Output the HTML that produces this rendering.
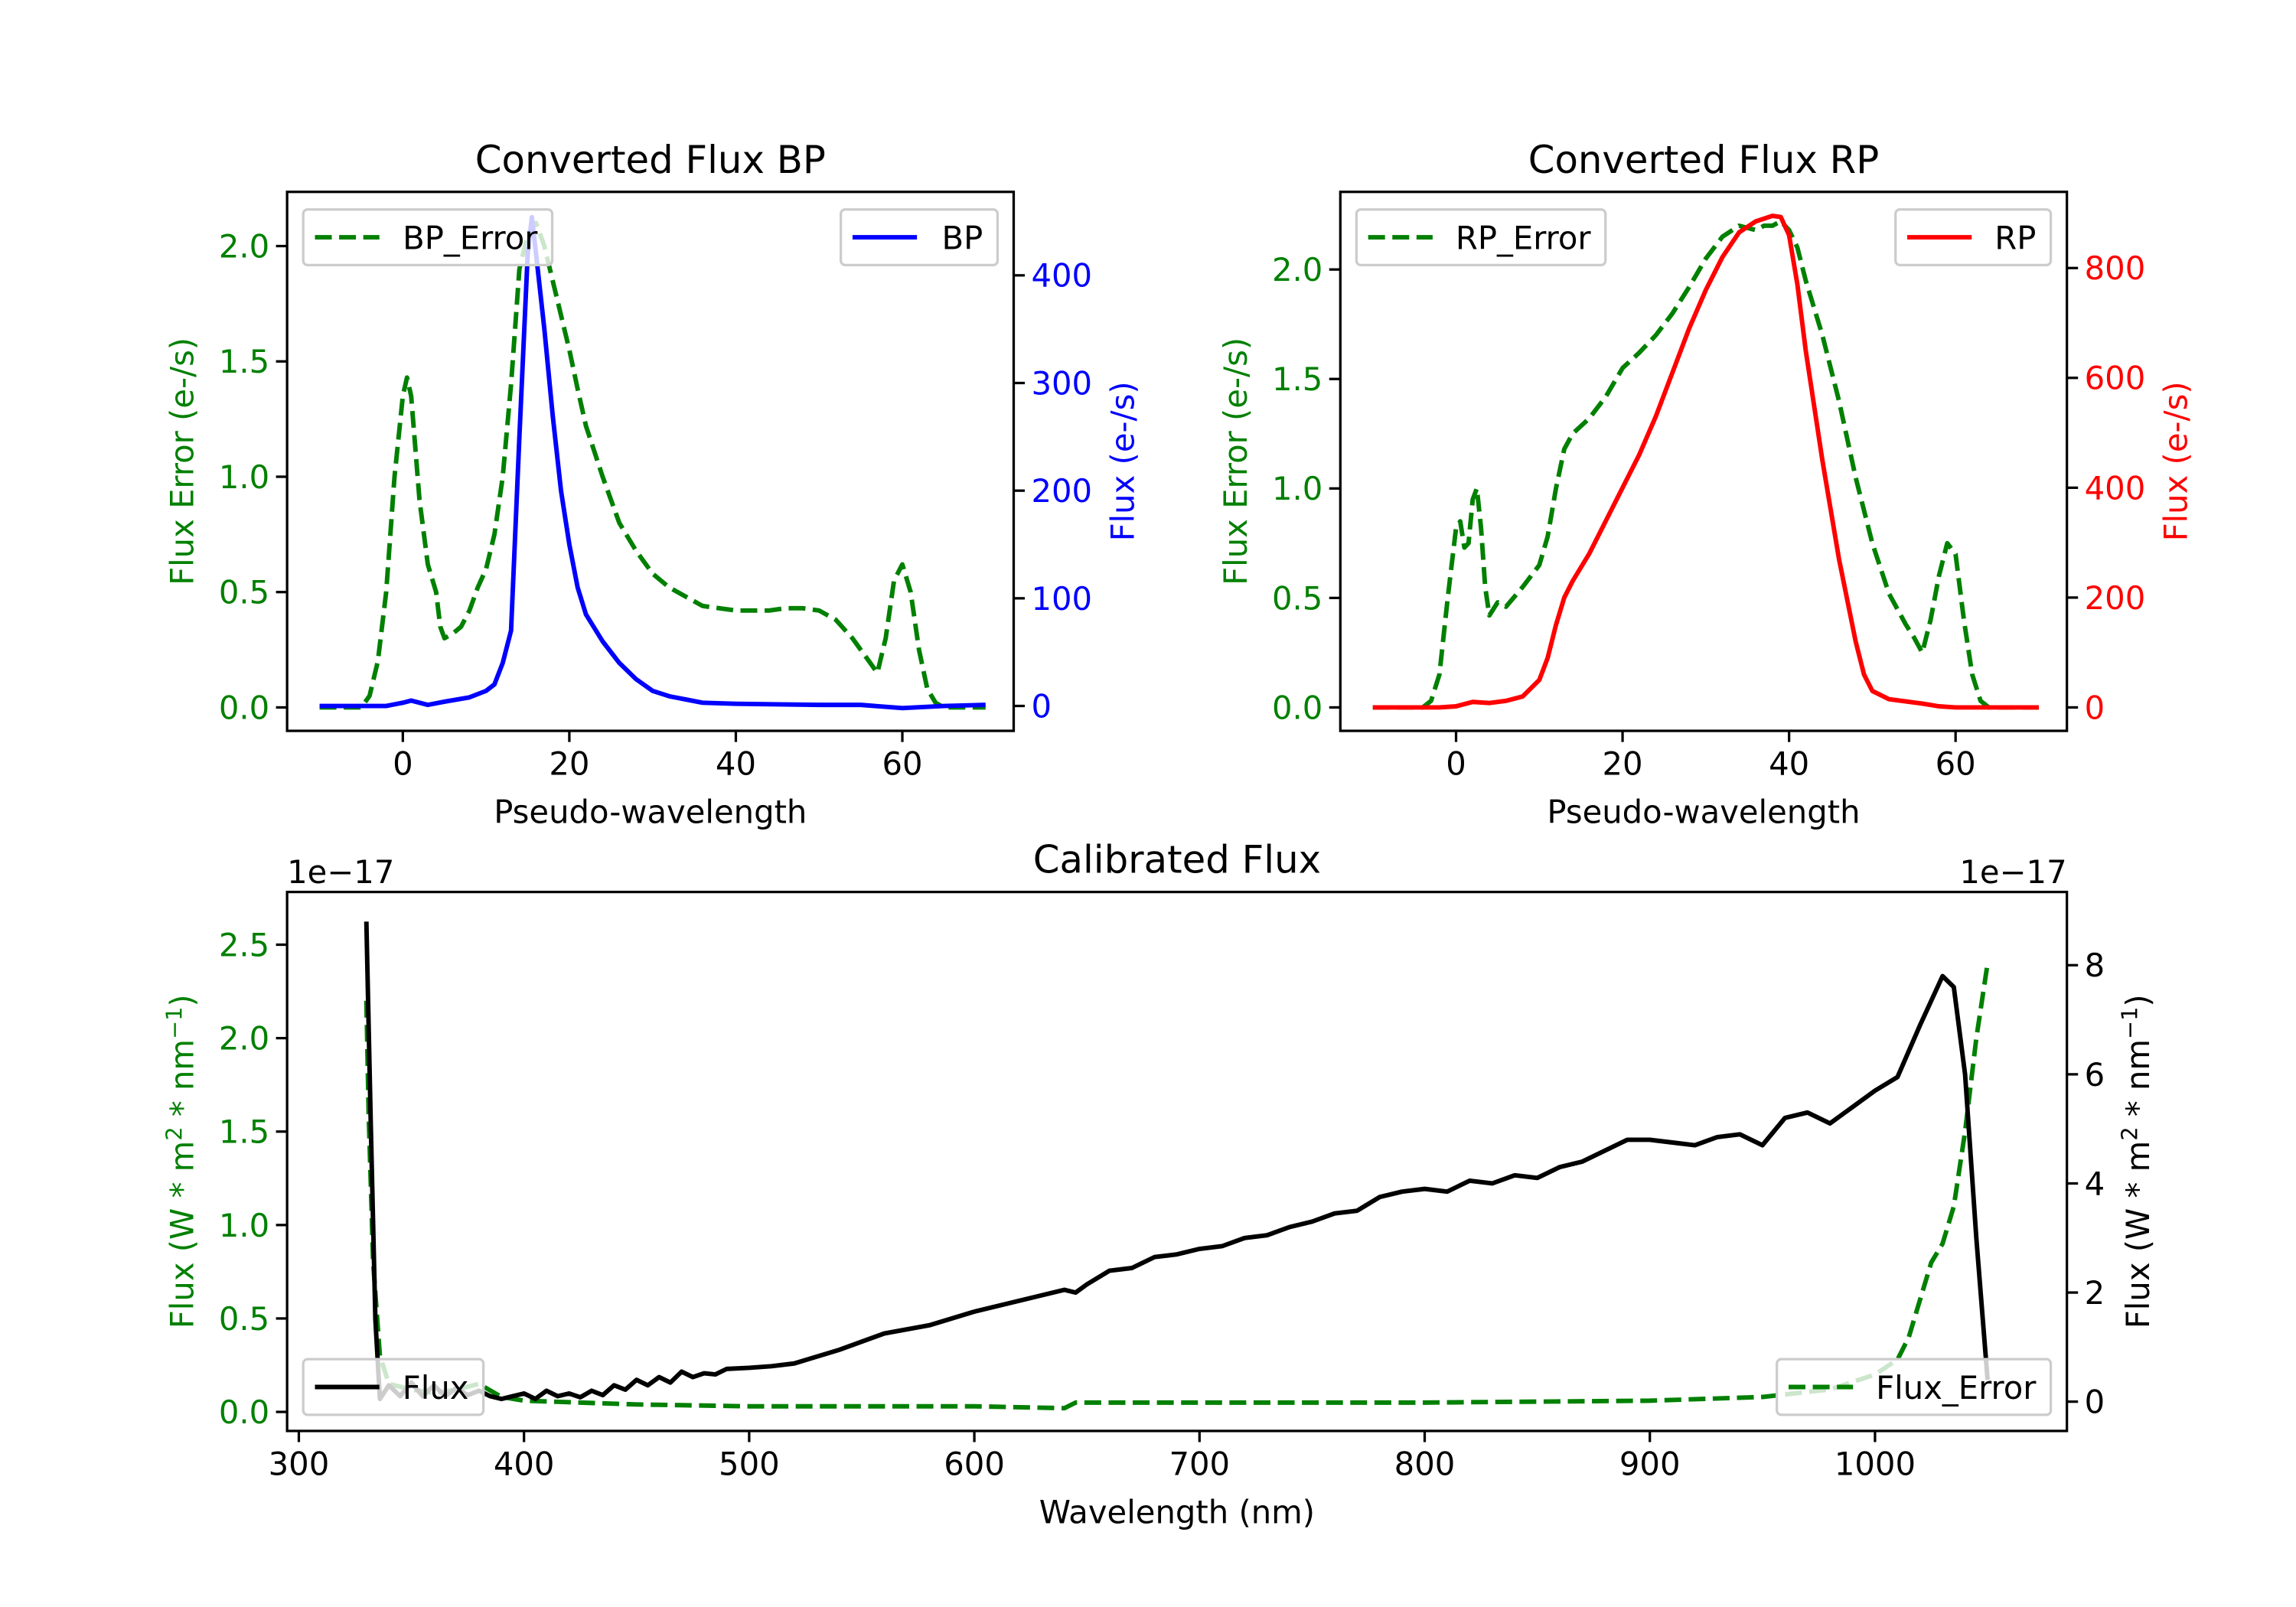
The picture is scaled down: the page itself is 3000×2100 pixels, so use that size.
<!DOCTYPE html>
<html><head><meta charset="utf-8">
<style>
html,body{margin:0;padding:0;background:#fff;}
svg{display:block;font-family:"DejaVu Sans","Liberation Sans",sans-serif;}
</style></head>
<body>
<svg id="fig" width="3000" height="2100" viewBox="0 0 1567.4 1097.2" preserveAspectRatio="none" xmlns="http://www.w3.org/2000/svg">
<rect x="0" y="0" width="1567.4" height="1097.2" fill="#fff"/>
</svg>
<script>
// ---- data ----
const bpErrX = [-10,-5,-4,-3,-2,-1,0,0.5,1,2,3,4,4.5,5,6,7,8,9,10,11,12,13,14,15,16,17,18,19,20,21,22,24,26,28,30,32,34,36,38,40,42,44,46,48,50,52,54,56,57,58,59,60,61,62,63,64,65,70];
const bpErrY = [0,0,0.05,0.2,0.5,1.0,1.35,1.43,1.35,0.9,0.62,0.5,0.35,0.3,0.32,0.35,0.42,0.52,0.6,0.75,1.0,1.4,1.9,2.05,2.1,2.0,1.85,1.7,1.55,1.38,1.22,1.0,0.8,0.68,0.58,0.52,0.48,0.44,0.43,0.42,0.42,0.42,0.43,0.43,0.42,0.38,0.3,0.2,0.15,0.3,0.55,0.62,0.5,0.25,0.08,0.02,0,0];
const bpX = [-10,-2,0,1,3,5,8,10,11,12,13,14,15,15.5,16,17,18,19,20,21,22,24,26,28,30,32,34,36,40,50,55,60,65,70];
const bpY = [0,0,3,5,1,4,8,14,20,40,70,250,420,454,420,350,270,200,150,110,85,60,40,25,14,9,6,3,2,1,1,-2,0,1];
const rpErrX = [-10,-4,-3,-2,-1,0,0.5,1,1.5,2,2.5,3,3.5,4,5,6,8,10,11,12,13,14,16,18,20,22,24,26,28,30,32,34,36,37,38,39,40,41,42,44,46,48,50,52,54,55,56,57,58,59,60,61,62,63,64,70];
const rpErrY = [0,0,0.03,0.15,0.5,0.82,0.85,0.73,0.75,0.95,1.0,0.82,0.55,0.42,0.48,0.46,0.55,0.65,0.78,1.0,1.18,1.25,1.32,1.42,1.55,1.62,1.7,1.8,1.92,2.05,2.15,2.2,2.18,2.2,2.2,2.22,2.18,2.1,1.95,1.7,1.4,1.05,0.75,0.52,0.38,0.32,0.25,0.4,0.6,0.75,0.7,0.4,0.15,0.03,0,0];
const rpX = [-10,-2,0,2,4,6,8,10,11,12,13,14,16,18,20,22,24,26,28,30,32,34,36,38,39,40,41,42,44,46,48,49,50,52,56,58,60,70];
const rpY = [0,0,2,10,8,12,20,50,90,150,200,230,280,340,400,460,530,610,690,760,820,865,885,895,893,860,770,650,450,270,120,60,30,15,7,2,0,0];
const calX = [330,332,334,336,340,345,350,355,360,365,370,375,380,385,390,395,400,405,410,415,420,425,430,435,440,445,450,455,460,465,470,475,480,485,490,500,510,520,540,560,580,600,620,640,645,650,660,670,680,690,700,710,720,730,740,750,760,770,780,790,800,810,820,830,840,850,860,870,880,890,900,910,920,930,940,950,960,970,980,990,1000,1010,1020,1030,1035,1040,1045,1050];
const calY = [8.8,5,1.5,0.05,0.3,0.1,0.35,0.1,0.3,0.1,0.25,0.12,0.2,0.1,0.05,0.1,0.15,0.05,0.2,0.1,0.15,0.08,0.2,0.12,0.3,0.22,0.4,0.3,0.45,0.35,0.55,0.45,0.52,0.5,0.6,0.62,0.65,0.7,0.95,1.25,1.4,1.65,1.85,2.05,2.0,2.15,2.4,2.45,2.65,2.7,2.8,2.85,3.0,3.05,3.2,3.3,3.45,3.5,3.75,3.85,3.9,3.85,4.05,4.0,4.15,4.1,4.3,4.4,4.6,4.8,4.8,4.75,4.7,4.85,4.9,4.7,5.2,5.3,5.1,5.4,5.7,5.95,6.9,7.8,7.6,6.0,3.0,0.4];
const calErrX = [330,331,333,336,340,350,360,370,380,390,400,450,500,600,640,645,700,800,900,950,980,1000,1010,1015,1020,1025,1030,1035,1040,1045,1050];
const calErrY = [2.2,1.6,0.8,0.3,0.15,0.12,0.1,0.12,0.15,0.08,0.06,0.04,0.03,0.03,0.02,0.05,0.05,0.05,0.06,0.08,0.12,0.2,0.28,0.4,0.6,0.8,0.9,1.1,1.5,2.0,2.4];
const bpXTicks = [0,20,40,60];
const bpLTicks = [0,0.5,1,1.5,2];
const bpRTicks = [0,100,200,300,400];
const rpLTicks = [0,0.5,1,1.5,2];
const rpRTicks = [0,200,400,600,800];
const calXTicks = [300,400,500,600,700,800,900,1000];
const calLTicks = [0,0.5,1,1.5,2,2.5];
const calRTicks = [0,2,4,6,8];

const NS='http://www.w3.org/2000/svg';
const svg=document.getElementById('fig');
function el(tag,attrs,parent,txt){const e=document.createElementNS(NS,tag);for(const k in attrs)e.setAttribute(k,attrs[k]);if(txt!==undefined)e.textContent=txt;(parent||svg).appendChild(e);return e;}
const FS=21.8, LW=3.1, DASH='11.5,5';
function lin(d0,d1,p0,p1){return v=>p0+(v-d0)*(p1-p0)/(d1-d0);}
function path(xs,ys,fx,fy){return xs.map((x,i)=>(i?'L':'M')+fx(x).toFixed(2)+','+fy(ys[i]).toFixed(2)).join('');}
function fmt(v,d){return v.toFixed(d);}

function panel(o){
  const g=el('g',{});
  
  
  const clipId='clip-'+o.name;
  const cp=el('clipPath',{id:clipId},g);el('rect',{x:o.x0,y:o.y0,width:o.x1-o.x0,height:o.y1-o.y0},cp);
  const lines=el('g',{'clip-path':'url(#'+clipId+')'},g);
  o.series.forEach(s=>{
    const p=el('path',{d:path(s.x,s.y,o.fx,s.axis==='L'?o.fl:o.fr),fill:'none',stroke:s.color,'stroke-width':LW,'stroke-linejoin':'round','stroke-dasharray':s.dash?DASH:'none'},lines);
    
    
  });
  const fr=el('rect',{x:o.x0,y:o.y0,width:o.x1-o.x0,height:o.y1-o.y0,fill:'none',stroke:'#000','stroke-width':1.7},g);
  
  
  o.xticks.forEach(t=>{const x=o.fx(t);el('line',{x1:x,x2:x,y1:o.y1,y2:o.y1+7.6,stroke:'#000','stroke-width':1.7},g);
    const tl=el('text',{x:x,y:o.y1+30,'font-size':FS,'text-anchor':'middle',fill:'#000'},g,String(t));
    
    });
  o.lticks.forEach(t=>{const y=o.fl(t);el('line',{x1:o.x0-7.6,x2:o.x0,y1:y,y2:y,stroke:'#000','stroke-width':1.7},g);
    const tl=el('text',{x:o.x0-12,y:y+7.8,'font-size':FS,'text-anchor':'end',fill:o.lcol},g,fmt(t,1));
    
    });
  o.rticks.forEach(t=>{const y=o.fr(t);el('line',{x1:o.x1,x2:o.x1+7.6,y1:y,y2:y,stroke:'#000','stroke-width':1.7},g);
    const tl=el('text',{x:o.x1+12,y:y+7.8,'font-size':FS,'text-anchor':'start',fill:o.rcol},g,String(t));
    
    });
  const ti=el('text',{x:(o.x0+o.x1)/2,y:o.y0-13,'font-size':26,'text-anchor':'middle',fill:'#000'},g,o.title);
  
  
  const xl=el('text',{x:(o.x0+o.x1)/2,y:o.y1+63,'font-size':FS,'text-anchor':'middle',fill:'#000'},g,o.xlabel);
  
  
  const cy=(o.y0+o.y1)/2;
  const yl=el('text',{x:o.lx,y:cy,'font-size':FS,'text-anchor':'middle',fill:o.lcol,transform:`rotate(-90 ${o.lx} ${cy})`},g);
  yl.innerHTML=o.llabel;
  
  
  const yr=el('text',{x:o.rx,y:cy,'font-size':FS,'text-anchor':'middle',fill:o.rcol,transform:`rotate(-90 ${o.rx} ${cy})`},g);
  yr.innerHTML=o.rlabel;
  
  
  o.legends.forEach(L=>{
    const lg=el('g',{},g);
    
    
    el('rect',{x:L.x,y:L.y,width:L.w,height:38,rx:3,fill:'#fff','fill-opacity':0.8,stroke:'#ccc','stroke-width':1.7},lg);
    el('line',{x1:L.x+8,x2:L.x+52,y1:L.y+19,y2:L.y+19,stroke:L.color,'stroke-width':LW,'stroke-dasharray':L.dash?DASH:'none'},lg);
    el('text',{x:L.x+L.w-10,y:L.y+27,'font-size':FS,'text-anchor':'end',fill:'#000'},lg,L.label);
  });
  if(o.offset){
    el('text',{x:o.x0,y:o.y0-6,'font-size':FS,'text-anchor':'start',fill:'#000'},g,'1e\u221217');
    el('text',{x:o.x1,y:o.y0-6,'font-size':FS,'text-anchor':'end',fill:'#000'},g,'1e\u221217');
  }
}
const G='#008000';
panel({name:'bp-panel',x0:196,x1:692,y0:131,y1:499,fx:lin(0,60,275,616),fl:lin(0,2,483,168),fr:lin(0,400,482,188),
  lcol:G,rcol:'#0000ff',xticks:bpXTicks,lticks:bpLTicks,rticks:bpRTicks,title:'Converted Flux BP',xlabel:'Pseudo-wavelength',
  llabel:'Flux Error (e-/s)',rlabel:'Flux (e-/s)',lx:132,rx:774,
  series:[{name:'bp-error-line',x:bpErrX,y:bpErrY,axis:'L',color:G,dash:true},{name:'bp-flux-line',x:bpX,y:bpY,axis:'R',color:'#0000ff'}],
  legends:[{x:207,y:143,w:170,label:'BP_Error',color:G,dash:true},{x:574,y:143,w:107,label:'BP',color:'#0000ff'}]});
panel({name:'rp-panel',x0:915,x1:1411,y0:131,y1:499,fx:lin(0,60,994,1335),fl:lin(0,2,483,184),fr:lin(0,800,483,183),
  lcol:G,rcol:'#ff0000',xticks:bpXTicks,lticks:rpLTicks,rticks:rpRTicks,title:'Converted Flux RP',xlabel:'Pseudo-wavelength',
  llabel:'Flux Error (e-/s)',rlabel:'Flux (e-/s)',lx:851,rx:1493,
  series:[{name:'rp-error-line',x:rpErrX,y:rpErrY,axis:'L',color:G,dash:true},{name:'rp-flux-line',x:rpX,y:rpY,axis:'R',color:'#ff0000'}],
  legends:[{x:926,y:143,w:170,label:'RP_Error',color:G,dash:true},{x:1294,y:143,w:106,label:'RP',color:'#ff0000'}]});
panel({name:'calibrated-panel',x0:196,x1:1411,y0:609,y1:977,fx:lin(300,1000,204,1280),fl:lin(0,2.5,964,645),fr:lin(0,8,957,659),
  lcol:G,rcol:'#000',xticks:calXTicks,lticks:calLTicks,rticks:calRTicks,title:'Calibrated Flux',xlabel:'Wavelength (nm)',
  llabel:'Flux (W * m<tspan font-size="15" dy="-8">2</tspan><tspan dy="8"> * nm</tspan><tspan font-size="15" dy="-8">\u22121</tspan><tspan dy="8">)</tspan>',
  rlabel:'Flux (W * m<tspan font-size="15" dy="-8">2</tspan><tspan dy="8"> * nm</tspan><tspan font-size="15" dy="-8">\u22121</tspan><tspan dy="8">)</tspan>',
  lx:132,rx:1467,offset:true,
  series:[{name:'flux-error-line',x:calErrX,y:calErrY,axis:'L',color:G,dash:true},{name:'flux-line',x:calX,y:calY,axis:'R',color:'#000'}],
  legends:[{x:207,y:928,w:123,label:'Flux',color:'#000'},{x:1213,y:928,w:187,label:'Flux_Error',color:G,dash:true}]});
</script>
</body></html>
